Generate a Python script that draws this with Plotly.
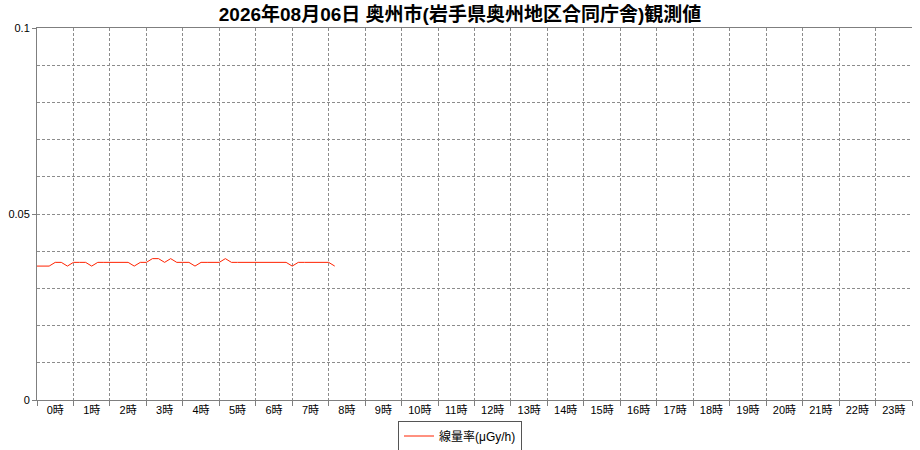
import plotly.graph_objects as go

title_text = "2026年08月06日 奥州市(岩手県奥州地区合同庁舎)観測値"
series_name = "線量率(μGy/h)"
hour_labels = [f"{h}時" for h in range(24)]
# 10-minute readings from 0時 onward
dose_rate = [
    0.036, 0.036, 0.036, 0.037, 0.037, 0.036,
    0.037, 0.037, 0.037, 0.036, 0.037, 0.037,
    0.037, 0.037, 0.037, 0.037, 0.036, 0.037,
    0.037, 0.038, 0.038, 0.037, 0.038, 0.037,
    0.037, 0.037, 0.036, 0.037, 0.037, 0.037,
    0.037, 0.038, 0.037, 0.037, 0.037, 0.037,
    0.037, 0.037, 0.037, 0.037, 0.037, 0.037,
    0.036, 0.037, 0.037, 0.037, 0.037, 0.037,
    0.037, 0.036,
]
y_ticks = [0, 0.05, 0.1]
y_tick_text = ["0", "0.05", "0.1"]

x_vals = [i / 6 for i in range(len(dose_rate))]

FONT = "Liberation Sans, Arial, Noto Sans CJK JP, sans-serif"
GRID = "#8c8c8c"

fig = go.Figure()
fig.add_trace(go.Scatter(
    x=x_vals, y=dose_rate, mode="lines", name=series_name,
    line=dict(color="#ff2200", width=1), showlegend=True,
))

fig.update_layout(
    width=920, height=450,
    margin=dict(l=37, r=8, t=28, b=50, autoexpand=False),
    paper_bgcolor="white", plot_bgcolor="white",
    font=dict(family=FONT, size=11, color="#000000"),
    title=dict(text="<b>" + title_text + "</b>", x=0.5, xref="container", xanchor="center",
               y=1 - 14 / 450, yref="container", yanchor="middle",
               font=dict(family="Liberation Sans, Noto Sans CJK JP, sans-serif", size=19, color="#000")),
    showlegend=True,
    legend=dict(orientation="h", x=(460 - 37) / 875, xanchor="center",
                y=-36 / 372, yanchor="middle",
                bordercolor="#555555", borderwidth=1, bgcolor="white",
                font=dict(size=12, family=FONT)),
)

fig.update_xaxes(
    range=[0, 24], fixedrange=True, automargin=False,
    tickmode="array", tickvals=[h + 0.5 for h in range(24)], ticktext=hour_labels,
    ticks="", showgrid=False, zeroline=False,
    showline=True, linecolor="#7f7f7f", linewidth=1, mirror=True,
    tickfont=dict(size=11),
    minor=dict(tickmode="array", tickvals=list(range(25)), showgrid=True,
               gridcolor=GRID, griddash="3px,2px", gridwidth=1,
               ticks="outside", ticklen=5, tickcolor="#7f7f7f"),
)
fig.update_yaxes(
    range=[0, 0.1], fixedrange=True, automargin=False,
    tickmode="array", tickvals=y_ticks, ticktext=y_tick_text,
    ticks="outside", ticklen=4, tickcolor="#7f7f7f",
    showgrid=True, gridcolor=GRID, griddash="3px,2px", gridwidth=1,
    zeroline=False, showline=True, linecolor="#7f7f7f", linewidth=1,
    tickfont=dict(size=11),
    minor=dict(dtick=0.01, tick0=0, showgrid=True, gridcolor=GRID,
               griddash="3px,2px", gridwidth=1),
)

fig.write_html(
    "out.html",
    config={"displayModeBar": False},
    post_script="document.body.style.margin='0';document.body.style.overflow='hidden';",
)
